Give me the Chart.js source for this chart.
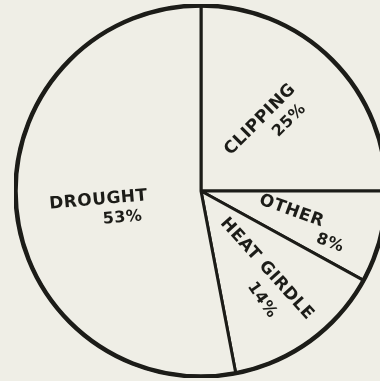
<!DOCTYPE html>
<html>
<head>
<meta charset="utf-8">
<script src="https://cdn.jsdelivr.net/npm/chart.js@4/dist/chart.umd.min.js"></script>
<style>
  html, body { margin: 0; padding: 0; width: 380px; height: 381px; overflow: hidden; background: #efeee6; }
  #wrap { position: absolute; left: 14px; top: 4px; width: 374px; height: 374px; }
</style>
</head>
<body>
<div id="wrap"><canvas id="pie" width="374" height="374"></canvas></div>
<script>
// Causes of loss, in percent
const categories = ['Clipping', 'Other', 'Heat girdle', 'Drought'];
const percents = [25, 8, 14, 53];

// Where each slice's name and value are written: angle (deg, clockwise from top),
// distance as a fraction of the radius, and text rotation (deg)
const nameLayout = [
  { angle: 39.7, dist: 0.50, rot: -45 },
  { angle: 102.5, dist: 0.50, rot: 20 },
  { angle: 139.8, dist: 0.55, rot: 48 },
  { angle: 265, dist: 0.555, rot: -5 }
];
const valueLayout = [
  { angle: 51.4, dist: 0.61, rot: -45 },
  { angle: 112, dist: 0.75, rot: 20 },
  { angle: 150.8, dist: 0.674, rot: 55 },
  { angle: 251, dist: 0.447, rot: -5 }
];

const ink = '#1c1c18';
const paper = '#efeee6';

const sliceLabels = {
  id: 'sliceLabels',
  afterDatasetsDraw(chart) {
    const ctx = chart.ctx;
    const arcs = chart.getDatasetMeta(0).data;
    if (!arcs.length) return;
    const cx = arcs[0].x, cy = arcs[0].y, R = arcs[0].outerRadius;

    // heavier outer rim
    ctx.save();
    ctx.beginPath();
    ctx.arc(cx, cy, R, 0, Math.PI * 2);
    ctx.lineWidth = 4.5;
    ctx.strokeStyle = ink;
    ctx.stroke();
    ctx.restore();

    const put = (text, lay, size) => {
      const a = lay.angle * Math.PI / 180;
      const x = cx + Math.sin(a) * R * lay.dist;
      const y = cy - Math.cos(a) * R * lay.dist;
      ctx.save();
      ctx.translate(x, y);
      ctx.rotate(lay.rot * Math.PI / 180);
      ctx.font = 'bold ' + size + 'px "DejaVu Sans"';
      ctx.letterSpacing = '0.5px';
      ctx.fillStyle = ink;
      ctx.textAlign = 'center';
      ctx.textBaseline = 'middle';
      ctx.fillText(text, 0, 0);
      ctx.restore();
    };
    categories.forEach((c, i) => {
      put(c.toUpperCase(), nameLayout[i], 17);
      put(percents[i] + '%', valueLayout[i], 16);
    });
  }
};

new Chart(document.getElementById('pie'), {
  type: 'pie',
  data: {
    labels: categories,
    datasets: [{
      data: percents,
      backgroundColor: paper,
      borderColor: ink,
      borderWidth: 3,
      hoverBorderWidth: 3,
      hoverOffset: 0,
      offset: 0,
      borderJoinStyle: 'miter'
    }]
  },
  options: {
    responsive: false,
    animation: false,
    events: [],
    layout: { padding: 0 },
    plugins: { legend: { display: false }, tooltip: { enabled: false } }
  },
  plugins: [sliceLabels]
});
</script>
</body>
</html>
